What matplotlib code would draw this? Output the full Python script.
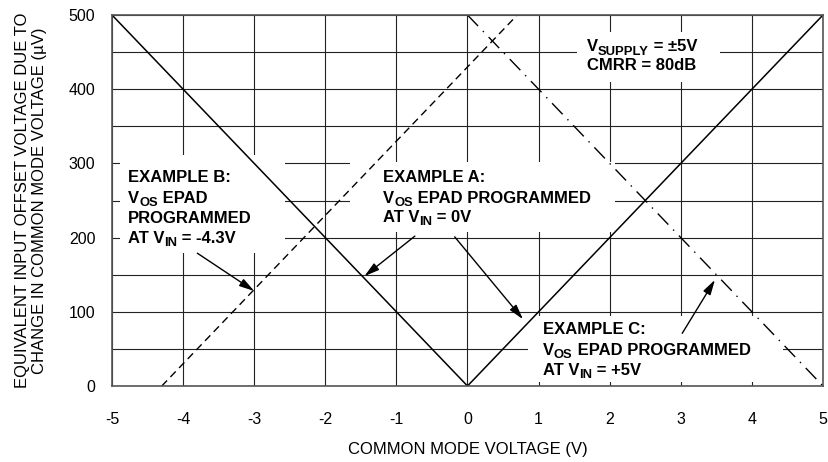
import matplotlib.pyplot as plt
from matplotlib.patches import Rectangle

plt.rcParams['font.family'] = ['Liberation Sans', 'DejaVu Sans']
plt.rcParams['axes.unicode_minus'] = False

# data
ex_a_x = [-5, 0, 5]
ex_a_y = [500, 0, 500]
ex_b_x = [-4.3, 0.7]
ex_b_y = [0, 500]
ex_c_x = [0, 5]
ex_c_y = [500, 0]
xticks = [-5, -4, -3, -2, -1, 0, 1, 2, 3, 4, 5]
yticks = [0, 100, 200, 300, 400, 500]

fig = plt.figure(figsize=(8.29, 4.62), dpi=100)
ax = fig.add_axes([112/829, 1-386/462, (823-112)/829, (386-15)/462])

ax.set_xlim(-5, 5)
ax.set_ylim(0, 500)
ax.set_xticks(xticks)
ax.set_yticks(yticks)
ax.set_xticks(range(-4, 5), minor=True)
ax.set_yticks(range(50, 500, 50), minor=True)
ax.set_axisbelow(True)
ax.grid(True, which='both', color='#222222', lw=0.8)
ax.tick_params(which='both', length=0, labelsize=11.5)
ax.tick_params(axis='x', pad=19)
ax.tick_params(axis='y', pad=12)
for s in ax.spines.values():
    s.set_color('#555555')
    s.set_linewidth(1.2)

ax.set_xlabel('COMMON MODE VOLTAGE (V)', fontsize=12, va='center')
ax.xaxis.set_label_coords(0.5, -0.172)
ax.set_ylabel('EQUIVALENT INPUT OFFSET VOLTAGE DUE TO\nCHANGE IN COMMON MODE VOLTAGE (\u00b5V)',
              fontsize=12, va='center', linespacing=1.15)
ax.yaxis.set_label_coords(-0.114, 0.5)

ax.plot(ex_a_x, ex_a_y, color='black', lw=1.1)
ax.plot(ex_b_x, ex_b_y, color='black', lw=1.0, dashes=(5.5, 3.5))
ax.plot(ex_c_x, ex_c_y, color='black', lw=1.0, dashes=(11, 5, 1, 5))

# white boxes behind labels (x0, x1, y0, y1)
boxes = [(-4.89, -2.57, 179, 311), (-1.65, 2.07, 207, 302),
         (0.85, 4.44, 5, 94), (1.54, 3.55, 410, 477)]
for x0, x1, y0, y1 in boxes:
    ax.add_patch(Rectangle((x0, y0), x1-x0, y1-y0, facecolor='white',
                           edgecolor='none', zorder=1))


def text_line(x, y, parts, size=12):
    # parts: list of (text, is_subscript); chained left to right
    first = prev = None
    for txt, sub in parts:
        if first is None:
            first = prev = ax.text(x, y, txt, fontsize=size, fontweight='bold',
                                   ha='left', va='baseline', zorder=3)
        else:
            prev = ax.annotate(txt, xy=(1, 0), xycoords=(prev, first),
                               xytext=(0, -2.4 if sub else 0), textcoords='offset points',
                               fontsize=size*0.78 if sub else size, fontweight='bold',
                               ha='left', va='bottom', zorder=3, annotation_clip=False)


text_line(-4.775, 275, [('EXAMPLE B:', False)])
text_line(-4.775, 247, [('V', False), ('OS', True), (' EPAD', False)])
text_line(-4.775, 220, [('PROGRAMMED', False)])
text_line(-4.775, 193, [('AT V', False), ('IN', True), (' = -4.3V', False)])

text_line(-1.19, 275, [('EXAMPLE A:', False)])
text_line(-1.19, 247, [('V', False), ('OS', True), (' EPAD PROGRAMMED', False)])
text_line(-1.19, 221, [('AT V', False), ('IN', True), (' = 0V', False)])

text_line(1.06, 70, [('EXAMPLE C:', False)])
text_line(1.06, 42, [('V', False), ('OS', True), (' EPAD PROGRAMMED', False)])
text_line(1.06, 15, [('AT V', False), ('IN', True), (' = +5V', False)])

text_line(1.68, 451, [('V', False), ('SUPPLY', True), (' = \u00b15V', False)])
text_line(1.68, 426, [('CMRR = 80dB', False)])

ap = dict(arrowstyle='-|>,head_length=0.9,head_width=0.25', color='black', lw=1.0,
          shrinkA=0, shrinkB=0)
ax.annotate('', xy=(-3.0, 128), xytext=(-3.8, 179), arrowprops=ap)
ax.annotate('', xy=(-1.45, 148), xytext=(-0.74, 202), arrowprops=ap)
ax.annotate('', xy=(0.78, 90), xytext=(-0.18, 201), arrowprops=ap)
ax.annotate('', xy=(3.48, 143), xytext=(3.02, 71), arrowprops=ap)

fig.savefig('out.png', dpi=100)
